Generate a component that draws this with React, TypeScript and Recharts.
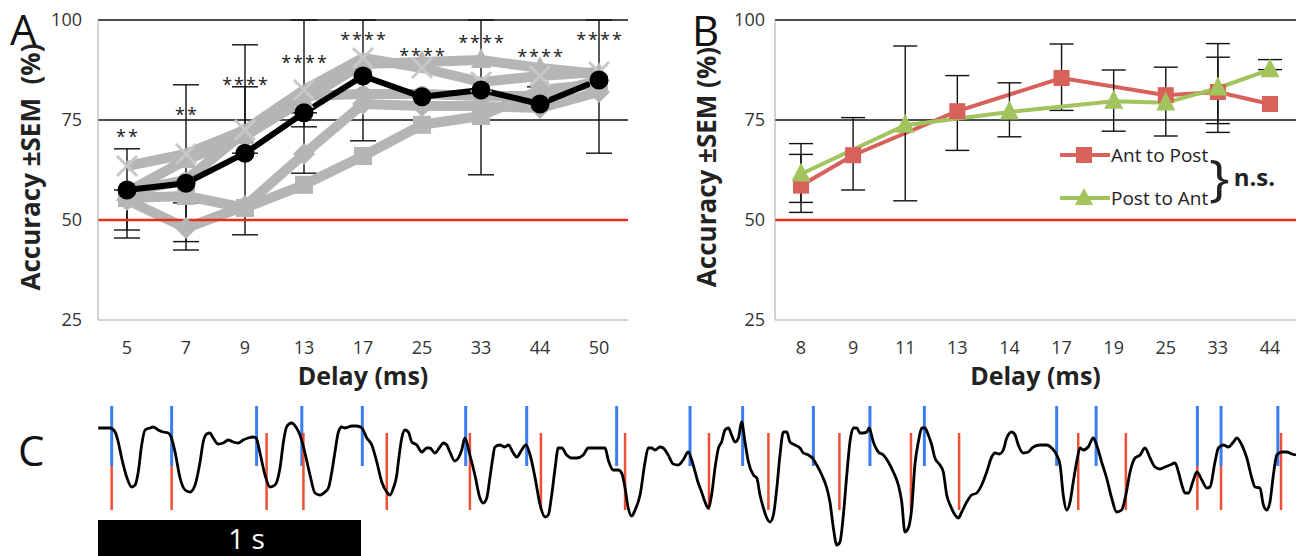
import React from 'react';
import { LineChart, Line, XAxis, YAxis, ReferenceLine, ReferenceArea, ErrorBar, LabelList, Label, Legend } from 'recharts';

const FONT = '"Open Sans", "DejaVu Sans", sans-serif';
const INK = '#222';
const AXIS_GRAY = '#a8a8a8';
const CHANCE_RED = '#e2301f';
const SUBJECT_GRAY = '#b5b5b5';
const ANT_RED = '#d8625b';
const POST_GREEN = '#a2c45c';
const ONSET_BLUE = '#3b7df3';
const EVENT_RED = '#ef4f35';

// ---------- panel A: accuracy per delay, group mean + individual subjects ----------
const delaysA = ['5', '7', '9', '13', '17', '25', '33', '44', '50'];
const meanA = [57.5, 59.2, 66.7, 76.8, 86, 80.8, 82.5, 79, 85];
const semLowA = [45.5, 42.5, 46.3, 61.7, 69.8, null, 61.3, 79, 66.7];
const semHighA = [67.8, 83.8, 93.8, 100, 100, null, 100, 83.3, 100];
const innerLowA = [47.5, 44.6, 66.7, 73.3, null, null, null, null, null];
const innerHighA = [57.5, 54.3, 83.3, 76.8, null, null, null, null, null];
const subjectX = [63.5, 66.5, 72.5, 82.5, 90.5, 88, 84.5, 86, 87];
const subjectTri = [57, 65, 71, 80, 89, 89.5, 90, 88, 86.5];
const subjectDiamond = [55, 48, 53.5, 66.5, 79, 78.5, 78.5, 78, 82];
const subjectSquare = [55.5, 56, 53, 58.8, 66, 73.8, 76, 82.5, 84];
const subjectCircle = [57, 60, 72, 81, 81.5, 81.5, 81, 81, 85];
const starsA = ['**', '**', '****', '****', '****', '****', '****', '****', '****'];
const starLevelA = [71.8, 77.3, 84.8, 90.3, 96, 92, 95.3, 91.8, 96];

// ---------- panel B: direction comparison ----------
const delaysB = ['8', '9', '11', '13', '14', '17', '19', '25', '33', '44'];
const antToPost = [58.6, 66.2, null, 77.2, null, 85.5, null, 81.2, 82, 79];
const antLow = [51.9, 57.5, null, 67.4, null, 77.4, null, 71, 71.9, null];
const antHigh = [66.4, 75.6, null, 86.1, null, 94, null, 88.2, 94.1, null];
const postToAnt = [61.5, null, 73.7, null, 77, null, 79.7, 79.3, 83, 87.6];
const postLow = [54.4, null, 54.8, null, 70.8, null, 72.2, null, 74.1, 87.6];
const postHigh = [69.1, null, 93.5, null, 84.3, null, 87.5, null, 90.7, 90.1];

// ---------- panel C: example trace (ms, arbitrary units) ----------
const traceSamples: [number, number][] = [
  [1, 2], [27, 2], [46, 2], [65, -2], [77, -12], [90, -28], [109, -47], [128, -57], [141, -55], [153, -42],
  [166, -15], [179, 0], [198, 2], [210, 3], [229, 0], [248, -2], [267, -3], [278, -7], [293, -22], [312, -48],
  [331, -60], [350, -62], [369, -55], [388, -32], [400, -12], [413, -4], [426, -3], [438, -8], [457, -14], [476, -13],
  [495, -10], [514, -12], [533, -13], [552, -10], [571, -8], [590, -7], [601, -8], [616, -23], [635, -45], [654, -57],
  [673, -55], [692, -38], [705, -12], [717, 3], [736, 7], [755, 2], [768, -5], [787, -23], [806, -45], [825, -63],
  [844, -65], [863, -62], [876, -58], [889, -42], [901, -22], [914, -2], [927, 3], [939, 2], [952, 3], [965, 4],
  [984, 4], [1003, 2], [1022, -8], [1041, -15], [1060, -32], [1079, -52], [1098, -62], [1110, -65], [1123, -58], [1136, -45],
  [1142, -32], [1155, -8], [1167, 0], [1180, -2], [1193, -12], [1212, -15], [1231, -22], [1250, -18], [1262, -18], [1281, -23],
  [1300, -17], [1313, -13], [1326, -15], [1338, -22], [1357, -31], [1370, -28], [1383, -20], [1395, -8], [1414, -25], [1433, -45],
  [1452, -68], [1465, -73], [1478, -68], [1490, -48], [1501, -28], [1509, -17], [1528, -15], [1547, -17], [1560, -15], [1579, -23],
  [1592, -27], [1611, -20], [1627, -15], [1643, -25], [1662, -48], [1681, -75], [1700, -87], [1712, -85], [1725, -65], [1738, -38],
  [1750, -18], [1763, -18], [1782, -25], [1801, -28], [1820, -28], [1845, -25], [1864, -18], [1890, -18], [1909, -18], [1928, -18],
  [1940, -30], [1959, -40], [1978, -40], [1991, -43], [2004, -58], [2016, -78], [2029, -86], [2042, -80], [2061, -65], [2080, -32],
  [2092, -18], [2105, -18], [2118, -20], [2137, -17], [2149, -18], [2168, -25], [2187, -34], [2206, -35], [2225, -30], [2244, -22],
  [2263, -35], [2281, -52], [2295, -62], [2308, -72], [2320, -78], [2333, -65], [2346, -38], [2359, -18], [2371, -12], [2384, 0],
  [2397, 2], [2409, -5], [2422, -12], [2435, -8], [2447, 8], [2460, -12], [2473, -32], [2492, -45], [2505, -48], [2517, -65],
  [2530, -78], [2543, -88], [2555, -92], [2568, -85], [2581, -58], [2593, -25], [2606, -2], [2619, -2], [2631, -12], [2650, -15],
  [2669, -18], [2682, -23], [2701, -25], [2716, -28], [2733, -35], [2752, -45], [2771, -58], [2783, -72], [2796, -98], [2809, -115],
  [2821, -112], [2834, -85], [2847, -45], [2859, -12], [2872, 2], [2885, 2], [2897, -3], [2910, -3], [2923, -2], [2932, 2],
  [2948, -12], [2967, -22], [2986, -25], [3005, -32], [3024, -42], [3043, -55], [3056, -72], [3068, -102], [3081, -98], [3094, -78],
  [3106, -35], [3119, -12], [3132, 2], [3144, 2], [3157, -5], [3170, -15], [3182, -28], [3201, -35], [3214, -42], [3227, -65],
  [3240, -75], [3259, -85], [3271, -88], [3284, -82], [3303, -72], [3322, -65], [3341, -63], [3360, -55], [3379, -42], [3398, -27],
  [3411, -23], [3427, -24], [3442, -20], [3455, -8], [3474, -2], [3487, -5], [3499, -15], [3518, -23], [3537, -22], [3556, -17],
  [3582, -15], [3607, -15], [3626, -18], [3645, -25], [3658, -35], [3670, -65], [3683, -80], [3696, -72], [3708, -52], [3721, -32],
  [3734, -18], [3746, -20], [3765, -17], [3784, -8], [3797, -15], [3816, -32], [3835, -48], [3854, -68], [3873, -82], [3892, -80],
  [3908, -65], [3924, -42], [3943, -28], [3962, -25], [3981, -18], [4000, -28], [4019, -37], [4038, -39], [4057, -37], [4076, -35],
  [4095, -33], [4108, -42], [4121, -55], [4133, -63], [4146, -63], [4165, -50], [4178, -42], [4197, -50], [4216, -58], [4228, -57],
  [4247, -32], [4260, -18], [4279, -15], [4298, -17], [4317, -12], [4330, -8], [4349, -15], [4368, -28], [4387, -48], [4399, -57],
  [4418, -58], [4431, -75], [4444, -80], [4456, -72], [4469, -45], [4482, -25], [4501, -22], [4520, -22], [4539, -24], [4555, -25],
];
const blueOnsets = [52, 280, 603, 775, 1005, 1398, 1630, 1972, 2251, 2451, 2720, 2935, 3142, 3645, 3795, 4180, 4270, 4486];
const redEvents = [52, 280, 641, 781, 1098, 1414, 1684, 2004, 2323, 2549, 2819, 3091, 3274, 3727, 3908, 4180, 4270, 4498];
const TRACE_END_MS = 4555;
const SCALE_BAR_MS = 1000;

// ---------- tables ----------
const err = (v: number | null, lo: number | null, hi: number | null) =>
  v == null || lo == null || hi == null ? null : [v - lo, hi - v];

const tableA = delaysA.map((d, i) => {
  const il = innerLowA[i];
  const ih = innerHighA[i];
  const innerMid = il == null || ih == null ? meanA[i] : (il + ih) / 2;
  return {
    delay: d,
    mean: meanA[i],
    sem: err(meanA[i], semLowA[i], semHighA[i]),
    inner: innerMid,
    innerErr: il == null || ih == null ? null : [(ih - il) / 2, (ih - il) / 2],
    sX: subjectX[i],
    sTri: subjectTri[i],
    sDia: subjectDiamond[i],
    sSq: subjectSquare[i],
    sCirc: subjectCircle[i],
    stars: starsA[i],
    starLevel: starLevelA[i],
  };
});

const tableB = delaysB.map((d, i) => ({
  delay: d,
  ant: antToPost[i],
  antErr: err(antToPost[i], antLow[i], antHigh[i]),
  post: postToAnt[i],
  postErr: err(postToAnt[i], postLow[i], postHigh[i]),
}));

const traceData = traceSamples.map(([t, v]) => ({ t, v }));

// ---------- marker shapes ----------
const ok = (p: any) => p && p.cx != null && p.cy != null && !Number.isNaN(p.cy) && p.value != null;
const squareDot = (size: number, fill: string) => (p: any) =>
  ok(p) ? <rect key={p.index} x={p.cx - size / 2} y={p.cy - size / 2} width={size} height={size} fill={fill} /> : <g key={p.index} />;
const triDot = (size: number, fill: string) => (p: any) =>
  ok(p) ? (
    <polygon key={p.index} points={`${p.cx},${p.cy - size * 0.6} ${p.cx + size / 2},${p.cy + size * 0.4} ${p.cx - size / 2},${p.cy + size * 0.4}`} fill={fill} />
  ) : <g key={p.index} />;
const diamondDot = (size: number, fill: string) => (p: any) =>
  ok(p) ? (
    <polygon key={p.index} points={`${p.cx},${p.cy - size / 2} ${p.cx + size / 2},${p.cy} ${p.cx},${p.cy + size / 2} ${p.cx - size / 2},${p.cy}`} fill={fill} />
  ) : <g key={p.index} />;
const crossDot = (size: number, stroke: string) => (p: any) =>
  ok(p) ? (
    <g key={p.index} stroke={stroke} strokeWidth={3}>
      <line x1={p.cx - size / 2} y1={p.cy - size / 2} x2={p.cx + size / 2} y2={p.cy + size / 2} />
      <line x1={p.cx - size / 2} y1={p.cy + size / 2} x2={p.cx + size / 2} y2={p.cy - size / 2} />
    </g>
  ) : <g key={p.index} />;

// ---------- text helpers ----------
const yTitle = (text: string, dx: number) => (props: any) => {
  const vb = props.viewBox || {};
  const cx = vb.x + dx;
  const cy = vb.y + vb.height / 2 - 3;
  return (
    <text x={cx} y={cy} transform={`rotate(-90 ${cx} ${cy})`} textAnchor="middle" dominantBaseline="central"
      fontFamily={FONT} fontWeight={700} fontSize={26} fill={INK} style={{ whiteSpace: 'pre' }}>
      {text}
    </text>
  );
};
const xTitle = (text: string) => (props: any) => {
  const vb = props.viewBox || {};
  return (
    <text x={vb.x + vb.width / 2} y={vb.y + 65} textAnchor="middle" fontFamily={FONT} fontWeight={700} fontSize={25} fill={INK}>
      {text}
    </text>
  );
};
const starLabel = (p: any) => {
  const x = p.x ?? p.viewBox?.x;
  const y = p.y ?? p.viewBox?.y;
  if (x == null || y == null) return null;
  return (
    <text x={x + 1} y={y + 10} textAnchor="middle" fontFamily={FONT} fontSize={18} letterSpacing={2} fill={INK}>
      {p.value}
    </text>
  );
};

const tickStyle = { fontFamily: FONT, fontSize: 18, fill: '#333' };

const legendShape: Record<string, 'square' | 'triangle'> = { 'Ant to Post': 'square', 'Post to Ant': 'triangle' };
const BLegend = (props: any) => {
  const payload = props.payload || [];
  return (
    <div style={{ position: 'relative', fontFamily: FONT, color: INK, width: 240 }}>
      {payload.map((entry: any) => (
        <div key={entry.value} style={{ display: 'flex', alignItems: 'center', height: 43 }}>
          <svg width={50} height={20}>
            <line x1={0} y1={10} x2={50} y2={10} stroke={entry.color} strokeWidth={4} />
            {legendShape[entry.value] === 'square' ? (
              <rect x={16} y={2} width={16} height={16} fill={entry.color} />
            ) : (
              <polygon points="24,0 33,17 15,17" fill={entry.color} />
            )}
          </svg>
          <span style={{ fontSize: 19, marginLeft: 1 }}>{entry.value}</span>
        </div>
      ))}
      <div style={{ position: 'absolute', left: 150, top: 12, display: 'flex', alignItems: 'center' }}>
        <span style={{ fontSize: 50, lineHeight: '62px', fontWeight: 400, transform: 'scaleX(1.1)' }}>{'}'}</span>
        <span style={{ fontSize: 24, fontWeight: 700, marginLeft: 5 }}>n.s.</span>
      </div>
    </div>
  );
};

const letterStyle = (left: number, top: number): React.CSSProperties => ({
  position: 'absolute', left, top, fontFamily: FONT, fontSize: 42, lineHeight: 1.4, color: '#111',
});

export default function App() {
  return (
    <div style={{ position: 'absolute', left: 0, top: 0, width: 1296, height: 556, background: '#fff', overflow: 'hidden' }}>
      {/* Panel A */}
      <div style={{ position: 'absolute', left: 0, top: 0 }}>
        <LineChart width={640} height={400} data={tableA} margin={{ top: 20, right: 12, bottom: 0, left: 40 }}>
          <XAxis dataKey="delay" padding={{ left: 29, right: 29 }} height={80} stroke={AXIS_GRAY} tickLine={false} tickSize={0}
            tickMargin={21} tick={tickStyle}>
            <Label content={xTitle('Delay (ms)')} />
          </XAxis>
          <YAxis domain={[25, 100]} ticks={[25, 50, 75, 100]} allowDataOverflow width={58} stroke={AXIS_GRAY}
            tickLine={false} tickSize={0} tickMargin={16} tick={tickStyle}>
            <Label content={yTitle('Accuracy ±SEM  (%)', -10)} />
          </YAxis>
          <ReferenceLine y={100} stroke="#111" strokeWidth={1.5} />
          <ReferenceLine y={75} stroke="#111" strokeWidth={1.5} />
          <Line dataKey="mean" stroke="none" dot={false} legendType="none" isAnimationActive={false}>
            <ErrorBar dataKey="sem" direction="y" width={13} stroke="#111" strokeWidth={1.4} />
          </Line>
          <Line dataKey="inner" stroke="none" dot={false} legendType="none" isAnimationActive={false}>
            <ErrorBar dataKey="innerErr" direction="y" width={13} stroke="#111" strokeWidth={1.4} />
          </Line>
          <Line dataKey="sSq" stroke={SUBJECT_GRAY} strokeWidth={10} strokeLinejoin="round" dot={squareDot(18, SUBJECT_GRAY)} isAnimationActive={false} />
          <Line dataKey="sDia" stroke={SUBJECT_GRAY} strokeWidth={10} strokeLinejoin="round" dot={diamondDot(22, SUBJECT_GRAY)} isAnimationActive={false} />
          <Line dataKey="sCirc" stroke={SUBJECT_GRAY} strokeWidth={10} strokeLinejoin="round" dot={{ r: 8, fill: SUBJECT_GRAY, stroke: 'none' }} isAnimationActive={false} />
          <Line dataKey="sTri" stroke={SUBJECT_GRAY} strokeWidth={10} strokeLinejoin="round" dot={triDot(20, SUBJECT_GRAY)} isAnimationActive={false} />
          <Line dataKey="sX" stroke={SUBJECT_GRAY} strokeWidth={10} strokeLinejoin="round" dot={crossDot(20, '#c8c8c8')} isAnimationActive={false} />
          <ReferenceLine y={50} stroke={CHANCE_RED} strokeWidth={2.5} />
          <Line dataKey="mean" stroke="#000" strokeWidth={6} strokeLinejoin="round" dot={{ r: 9.5, fill: '#000', stroke: 'none' }} isAnimationActive={false} />
          <Line dataKey="starLevel" stroke="none" dot={false} legendType="none" isAnimationActive={false}>
            <LabelList dataKey="stars" content={starLabel} />
          </Line>
        </LineChart>
      </div>

      {/* Panel B */}
      <div style={{ position: 'absolute', left: 640, top: 0 }}>
        <LineChart width={656} height={400} data={tableB} margin={{ top: 20, right: 0, bottom: 0, left: 75 }}>
          <XAxis dataKey="delay" padding={{ left: 26, right: 26 }} height={80} stroke={AXIS_GRAY} tickLine={false} tickSize={0}
            tickMargin={21} tick={tickStyle}>
            <Label content={xTitle('Delay (ms)')} />
          </XAxis>
          <YAxis domain={[25, 100]} ticks={[25, 50, 75, 100]} allowDataOverflow width={60} stroke={AXIS_GRAY}
            tickLine={false} tickSize={0} tickMargin={10} tick={tickStyle}>
            <Label content={yTitle('Accuracy ±SEM (%)', -9)} />
          </YAxis>
          <ReferenceLine y={100} stroke="#111" strokeWidth={1.5} />
          <ReferenceLine y={75} stroke="#111" strokeWidth={1.5} />
          <ReferenceLine y={50} stroke={CHANCE_RED} strokeWidth={2.5} />
          <Line name="Ant to Post" dataKey="ant" stroke={ANT_RED} strokeWidth={4} connectNulls dot={squareDot(16, ANT_RED)} isAnimationActive={false}>
            <ErrorBar dataKey="antErr" direction="y" width={12} stroke="#111" strokeWidth={1.4} />
          </Line>
          <Line name="Post to Ant" dataKey="post" stroke={POST_GREEN} strokeWidth={4} connectNulls dot={triDot(19, POST_GREEN)} isAnimationActive={false}>
            <ErrorBar dataKey="postErr" direction="y" width={12} stroke="#111" strokeWidth={1.4} />
          </Line>
          <Legend layout="vertical" align="center" verticalAlign="middle" content={BLegend}
            wrapperStyle={{ left: 420, top: 133, width: 240 }} />
        </LineChart>
      </div>

      {/* Panel C */}
      <div style={{ position: 'absolute', left: 0, top: 390 }}>
        <LineChart width={1296} height={166} data={traceData} margin={{ top: 0, right: 0, bottom: 0, left: 98 }}>
          <XAxis dataKey="t" type="number" domain={[0, TRACE_END_MS]} allowDataOverflow hide />
          <YAxis domain={[-126, 40]} allowDataOverflow hide />
          {blueOnsets.map((t) => (
            <ReferenceLine key={`b${t}`} segment={[{ x: t, y: 24 }, { x: t, y: -36 }]} stroke={ONSET_BLUE} strokeWidth={3} ifOverflow="visible" />
          ))}
          {redEvents.map((t) => (
            <ReferenceLine key={`r${t}`} segment={[{ x: t, y: blueOnsets.includes(t) ? -36 : -3 }, { x: t, y: -80 }]}
              stroke={EVENT_RED} strokeWidth={2.5} ifOverflow="visible" />
          ))}
          <Line dataKey="v" type="monotone" stroke="#000" strokeWidth={2.8} dot={false} isAnimationActive={false} />
          <ReferenceArea x1={0} x2={SCALE_BAR_MS} y1={-126} y2={-90} fill="#000" fillOpacity={1} stroke="none" ifOverflow="visible">
            <Label content={(p: any) => {
              const vb = p.viewBox || {};
              return (
                <text x={vb.x + vb.width * 0.565} y={vb.y + vb.height / 2} textAnchor="middle" dominantBaseline="central"
                  fontFamily={FONT} fontSize={28} fill="#fff">
                  1 s
                </text>
              );
            }} />
          </ReferenceArea>
        </LineChart>
      </div>

      <div style={letterStyle(10, 0)}>A</div>
      <div style={letterStyle(692, 1)}>B</div>
      <div style={letterStyle(18, 421)}>C</div>
    </div>
  );
}
